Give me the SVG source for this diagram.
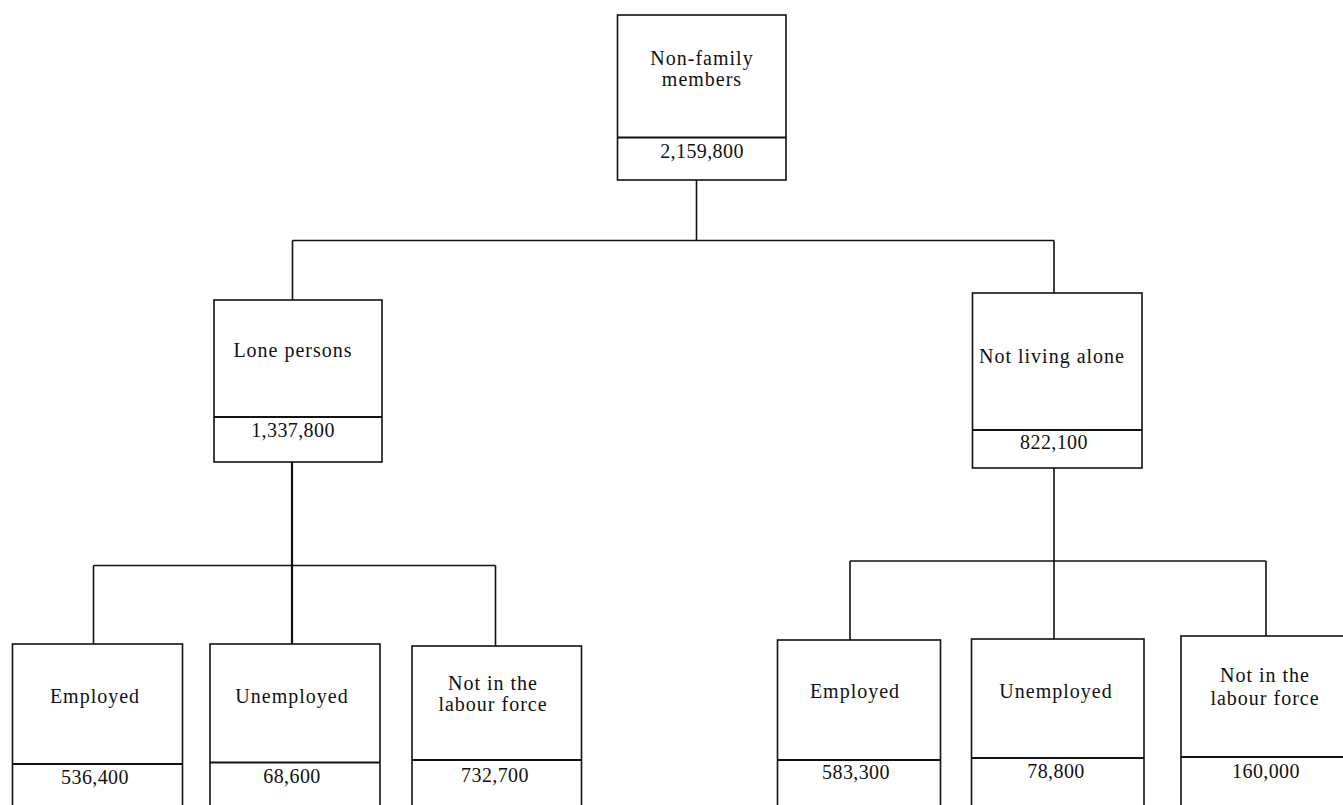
<svg xmlns="http://www.w3.org/2000/svg" width="1343" height="805" viewBox="0 0 1343 805">
<style>
.box{fill:#fff;stroke:#111;stroke-width:1.6}
.div{stroke:#111;stroke-width:2.2}
.lbl{font-family:"Liberation Serif","Times New Roman",serif;font-size:20px;letter-spacing:1px;fill:#111;text-anchor:middle}
.num{font-family:"Liberation Serif","Times New Roman",serif;font-size:20px;letter-spacing:0.4px;fill:#111;text-anchor:middle}
.con{fill:none;stroke:#111;stroke-width:1.6}
</style>
<rect width="1343" height="805" fill="#fff"/>
<g id="connectors">
<path class="con" d="M696.5 180V240.5M292.5 240.5H1054M292.5 240.5V300M1054 240.5V293"/>
<path class="con" d="M93.5 565.5H495.5M93.5 565.5V644M495.5 565.5V646"/>
<path class="con" style="stroke-width:2.2" d="M292 462V644"/>
<path class="con" d="M850 561H1266M850 561V640M1266 561V636M1054 468V639"/>
</g>
<g id="n-nonfamily">
<rect class="box" x="617.5" y="15" width="168.5" height="165"/>
<line class="div" x1="617.5" y1="137.5" x2="786" y2="137.5"/>
<text class="lbl" x="702" y="65">Non-family</text>
<text class="lbl" x="702" y="86">members</text>
<text class="num" x="702" y="158">2,159,800</text>
</g>
<g id="n-lone">
<rect class="box" x="214" y="300" width="168" height="162"/>
<line class="div" x1="214" y1="417" x2="382" y2="417"/>
<text class="lbl" x="293" y="357">Lone persons</text>
<text class="num" x="293" y="437">1,337,800</text>
</g>
<g id="n-notalone">
<rect class="box" x="972.5" y="293" width="169.5" height="175"/>
<line class="div" x1="972.5" y1="430" x2="1142" y2="430"/>
<text class="lbl" x="1052" y="363">Not living alone</text>
<text class="num" x="1054" y="449">822,100</text>
</g>
<g id="n-l-employed">
<rect class="box" x="12.5" y="644" width="170" height="180"/>
<line class="div" x1="12.5" y1="764" x2="182.5" y2="764"/>
<text class="lbl" x="95" y="703">Employed</text>
<text class="num" x="95" y="784">536,400</text>
</g>
<g id="n-l-unemployed">
<rect class="box" x="210" y="644" width="170" height="180"/>
<line class="div" x1="210" y1="762.5" x2="380" y2="762.5"/>
<text class="lbl" x="292" y="703">Unemployed</text>
<text class="num" x="292" y="783">68,600</text>
</g>
<g id="n-l-notlf">
<rect class="box" x="412" y="646" width="169.5" height="180"/>
<line class="div" x1="412" y1="760" x2="581.5" y2="760"/>
<text class="lbl" x="493" y="690">Not in the</text>
<text class="lbl" x="493" y="711">labour force</text>
<text class="num" x="495" y="782">732,700</text>
</g>
<g id="n-r-employed">
<rect class="box" x="777.5" y="640" width="163" height="180"/>
<line class="div" x1="777.5" y1="760" x2="940.5" y2="760"/>
<text class="lbl" x="855" y="698">Employed</text>
<text class="num" x="856" y="779">583,300</text>
</g>
<g id="n-r-unemployed">
<rect class="box" x="971.5" y="639" width="172.5" height="180"/>
<line class="div" x1="971.5" y1="758" x2="1144" y2="758"/>
<text class="lbl" x="1056" y="698">Unemployed</text>
<text class="num" x="1056" y="778">78,800</text>
</g>
<g id="n-r-notlf">
<rect class="box" x="1181" y="636" width="170" height="180"/>
<line class="div" x1="1181" y1="757" x2="1351" y2="757"/>
<text class="lbl" x="1265" y="682">Not in the</text>
<text class="lbl" x="1265" y="705">labour force</text>
<text class="num" x="1266" y="778">160,000</text>
</g>
</svg>
